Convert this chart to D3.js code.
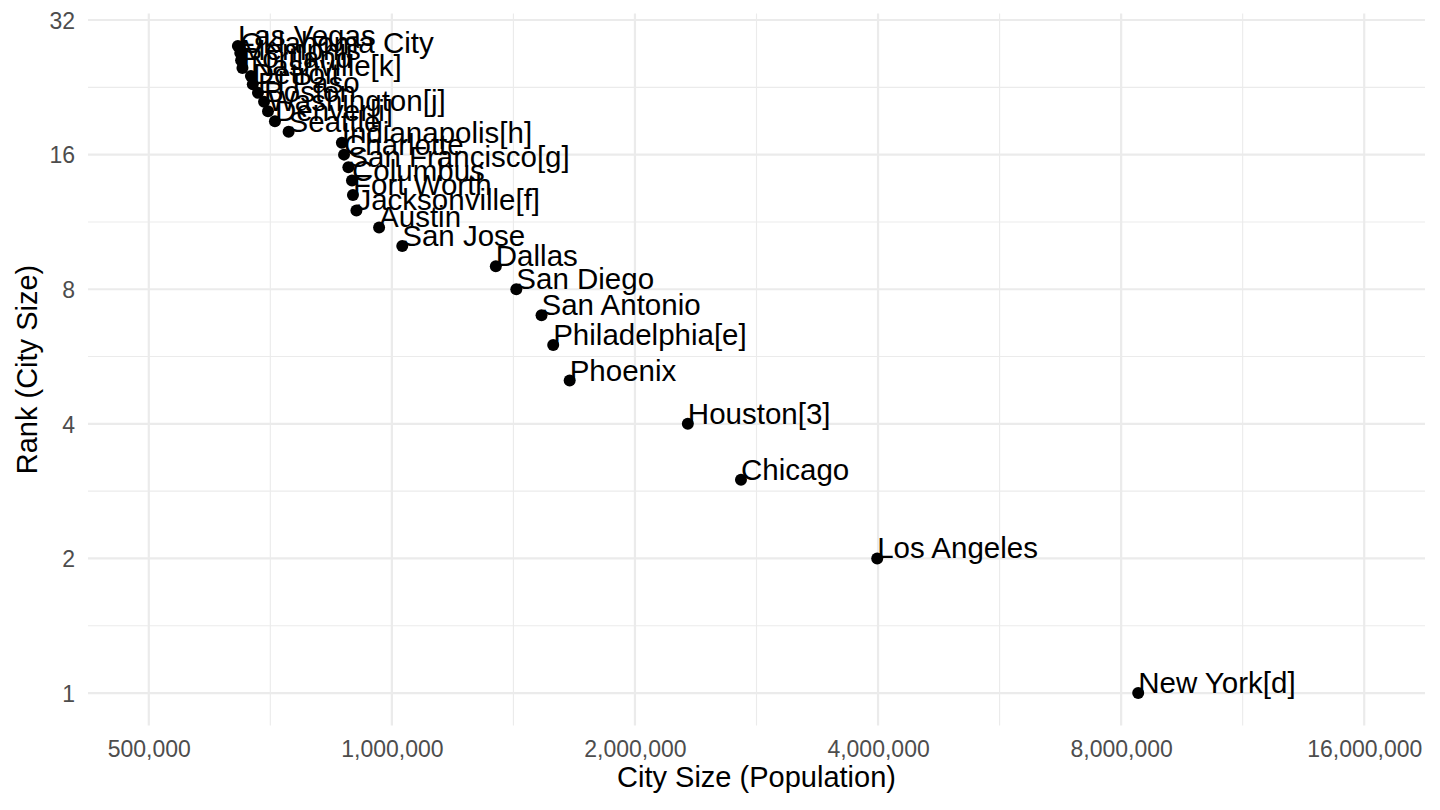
<!DOCTYPE html>
<html>
<head>
<meta charset="utf-8">
<script src="https://cdn.jsdelivr.net/npm/d3@7"></script>
<style>
  html, body { margin: 0; padding: 0; background: #fff; }
  svg { display: block; font-family: "Liberation Sans", Arial, Helvetica, sans-serif; }
</style>
</head>
<body>
<svg id="chart" width="1440" height="810"></svg>
<script>
// Data: US cities, 2018 population estimates, ranked
const cities = ["New York[d]", "Los Angeles", "Chicago", "Houston[3]", "Phoenix",
  "Philadelphia[e]", "San Antonio", "San Diego", "Dallas", "San Jose",
  "Austin", "Jacksonville[f]", "Fort Worth", "Columbus", "San Francisco[g]",
  "Charlotte", "Indianapolis[h]", "Seattle", "Denver[i]", "Washington[j]",
  "Boston", "El Paso", "Detroit", "Nashville[k]", "Portland",
  "Memphis", "Oklahoma City", "Las Vegas"];
const populations = [8398748, 3990456, 2705994, 2325502, 1660272,
  1584138, 1532233, 1425976, 1345047, 1030119,
  964254, 903889, 895008, 892533, 883305,
  872498, 867125, 744955, 716492, 702455,
  694583, 682669, 672662, 669053, 653115,
  650618, 649021, 644644];
const ranks = [1, 2, 3, 4, 5, 6, 7, 8, 9, 10, 11, 12, 13, 14, 15, 16, 17, 18, 19, 20,
  21, 22, 23, 24, 25, 26, 27, 28];
const xTicks = [500000, 1000000, 2000000, 4000000, 8000000, 16000000];
const yTicks = [1, 2, 4, 8, 16, 32];

const data = cities.map((c, i) => ({ city: c, pop: populations[i], rank: ranks[i] }));

const svg = d3.select("#chart");
const panel = { left: 88, right: 1425, top: 13.6, bottom: 725.4 };

// x: log2 with limits 500k..16M and 5% expansion
const xExp = 0.05 * Math.log2(16000000 / 500000);
const x = d3.scaleLog().base(2)
  .domain([500000 / Math.pow(2, xExp), 16000000 * Math.pow(2, xExp)])
  .range([panel.left, panel.right]);

// y: log2 with data range and 5% expansion
const rMin = d3.min(ranks), rMax = d3.max(ranks);
const yExp = 0.05 * Math.log2(rMax / rMin);
const y = d3.scaleLog().base(2)
  .domain([rMin / Math.pow(2, yExp), rMax * Math.pow(2, yExp)])
  .range([panel.bottom, panel.top]);

const grid = svg.append("g");
// minor gridlines (geometric midpoints)
const xMinor = xTicks.slice(0, -1).map((t, i) => Math.sqrt(t * xTicks[i + 1]));
const yMinor = yTicks.slice(0, -1).map((t, i) => Math.sqrt(t * yTicks[i + 1]));
grid.selectAll(".xmin").data(xMinor).join("line")
  .attr("x1", d => x(d)).attr("x2", d => x(d))
  .attr("y1", panel.top).attr("y2", panel.bottom)
  .attr("stroke", "#ebebeb").attr("stroke-width", 1.1);
grid.selectAll(".ymin").data(yMinor).join("line")
  .attr("x1", panel.left).attr("x2", panel.right)
  .attr("y1", d => y(d)).attr("y2", d => y(d))
  .attr("stroke", "#ebebeb").attr("stroke-width", 1.1);
// major gridlines
grid.selectAll(".xmaj").data(xTicks).join("line")
  .attr("x1", d => x(d)).attr("x2", d => x(d))
  .attr("y1", panel.top).attr("y2", panel.bottom)
  .attr("stroke", "#ebebeb").attr("stroke-width", 2.2);
grid.selectAll(".ymaj").data(yTicks).join("line")
  .attr("x1", panel.left).attr("x2", panel.right)
  .attr("y1", d => y(d)).attr("y2", d => y(d))
  .attr("stroke", "#ebebeb").attr("stroke-width", 2.2);

// axes (labels only, theme_minimal has no axis lines/ticks)
const fmt = d3.format(",");
const xAxis = svg.append("g")
  .attr("transform", `translate(0,${panel.bottom})`)
  .call(d3.axisBottom(x).tickValues(xTicks).tickFormat(fmt).tickSize(0).tickPadding(0));
xAxis.select(".domain").remove();
xAxis.selectAll("text")
  .attr("y", 31.5).attr("dy", null)
  .attr("font-size", 23).attr("fill", "#4d4d4d")
  .attr("font-family", "'Liberation Sans', Arial, sans-serif");

const yAxis = svg.append("g")
  .attr("transform", `translate(${panel.left},0)`)
  .call(d3.axisLeft(y).tickValues(yTicks).tickFormat(d3.format("d")).tickSize(0).tickPadding(0));
yAxis.select(".domain").remove();
yAxis.selectAll("text")
  .attr("x", -13).attr("dy", "0.36em")
  .attr("font-size", 23).attr("fill", "#4d4d4d")
  .attr("font-family", "'Liberation Sans', Arial, sans-serif");

// axis titles
svg.append("text")
  .attr("x", (panel.left + panel.right) / 2).attr("y", 787)
  .attr("text-anchor", "middle").attr("font-size", 29).attr("fill", "#000")
  .text("City Size (Population)");
svg.append("text")
  .attr("transform", `translate(37,${(panel.top + panel.bottom) / 2}) rotate(-90)`)
  .attr("text-anchor", "middle").attr("font-size", 29).attr("fill", "#000")
  .text("Rank (City Size)");

// points
svg.append("g").selectAll("circle").data(data).join("circle")
  .attr("cx", d => x(d.pop)).attr("cy", d => y(d.rank))
  .attr("r", 6).attr("fill", "#000");

// labels
svg.append("g").selectAll("text").data(data).join("text")
  .attr("x", d => x(d.pop)).attr("y", d => y(d.rank))
  .attr("font-size", 29.5).attr("fill", "#000")
  .text(d => d.city);
</script>
</body>
</html>
